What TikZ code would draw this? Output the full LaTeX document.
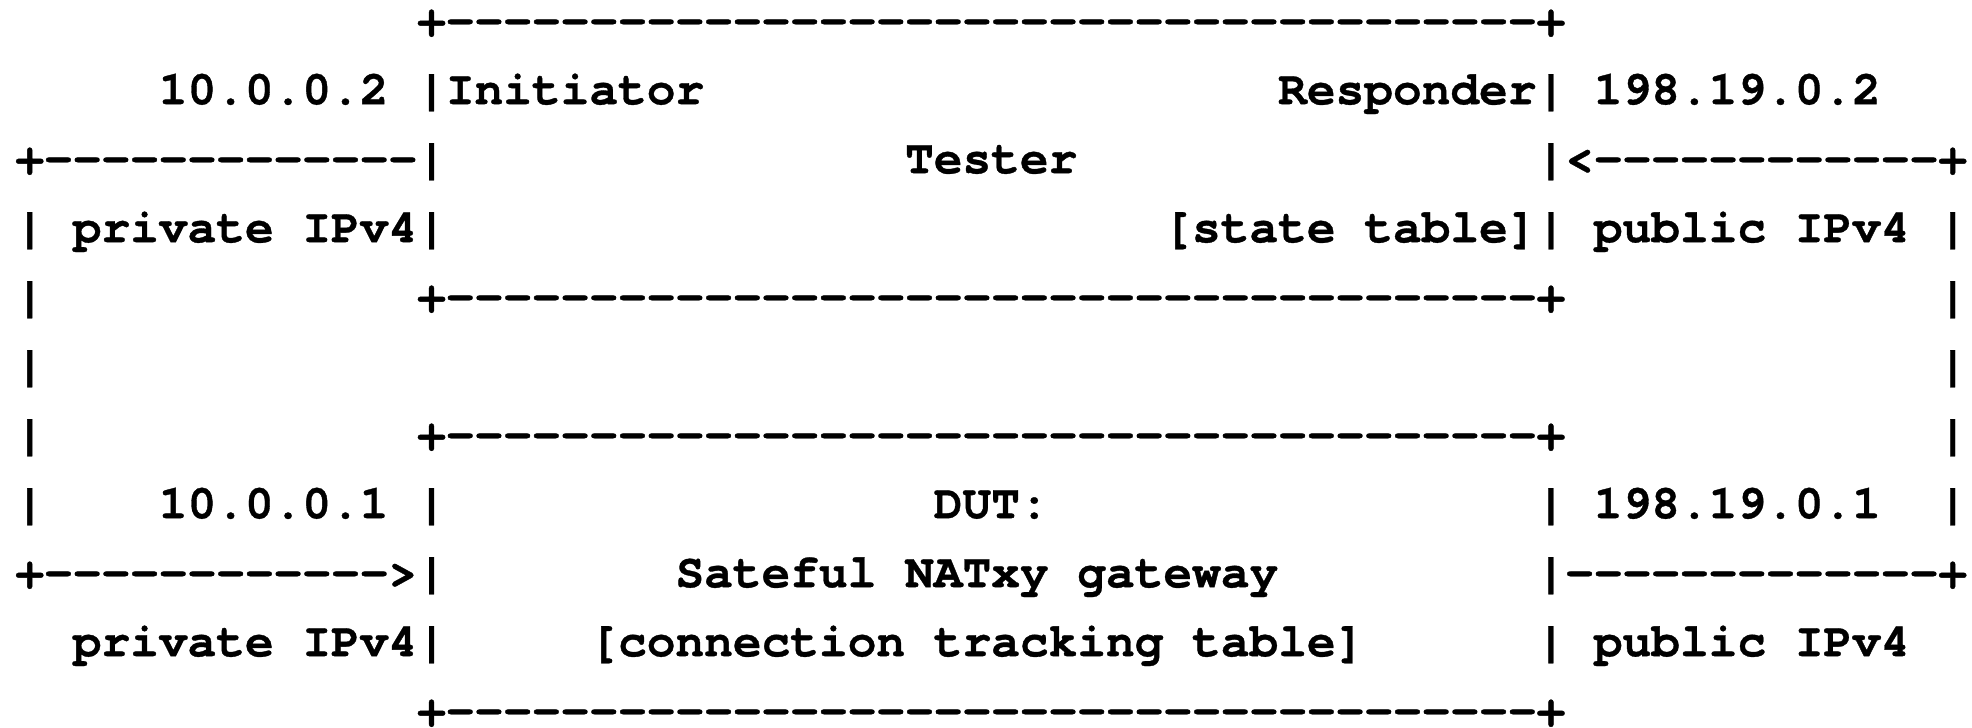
\documentclass[tikz,border=0pt]{standalone}
\usepackage{fontspec}
\setmonofont{texgyrecursor-bold.otf}[FakeBold=0.7]
\newcommand{\cellw}{14.35}
\newcommand{\xoff}{7.7}
\newcommand{\rowh}{34.5}
\tikzset{
  txt/.style={font=\ttfamily\fontsize{23.92pt}{30pt}\selectfont,
    inner sep=0pt, outer sep=0pt, anchor=base west, text=black},
}
\newcommand{\seg}[4]{\node[txt] (#1) at ({\xoff pt+#2*\cellw pt},{-17.6pt-(#3-1)*\rowh pt}) {#4};}
\begin{document}
\begin{tikzpicture}
\useasboundingbox (0,0) rectangle (986pt,-364pt);
% row 1
\seg{tt}{14}{1}{+--------------------------------------+}
% row 2
\seg{ipa}{5}{2}{10.0.0.2}
\seg{ini}{14}{2}{|Initiator}
\seg{res}{44}{2}{Responder|}
\seg{ipb}{55}{2}{198.19.0.2}
% row 3
\seg{la}{0}{3}{+-------------|}
\seg{tester}{31}{3}{Tester}
\seg{ra}{53}{3}{|<------------+}
% row 4
\seg{lb}{0}{4}{| private IPv4|}
\seg{st}{40}{4}{[state table]|}
\seg{pub}{55}{4}{public IPv4}
\seg{rb}{67}{4}{|}
% row 5
\seg{lc}{0}{5}{|}
\seg{tb}{14}{5}{+--------------------------------------+}
\seg{rc}{67}{5}{|}
% row 6
\seg{ld}{0}{6}{|}
\seg{rd}{67}{6}{|}
% row 7
\seg{le}{0}{7}{|}
\seg{dt}{14}{7}{+--------------------------------------+}
\seg{re}{67}{7}{|}
% row 8
\seg{lf}{0}{8}{|}
\seg{ipc}{5}{8}{10.0.0.1}
\seg{dl}{14}{8}{|}
\seg{dut}{32}{8}{DUT:}
\seg{dr}{53}{8}{|}
\seg{ipd}{55}{8}{198.19.0.1}
\seg{rf}{67}{8}{|}
% row 9
\seg{lg}{0}{9}{+------------>|}
\seg{nat}{23}{9}{Sateful NATxy gateway}
\seg{rg}{53}{9}{|-------------+}
% row 10
\seg{priv}{2}{10}{private IPv4|}
\seg{ct}{20}{10}{[connection tracking table]}
\seg{dr2}{53}{10}{|}
\seg{pub2}{55}{10}{public IPv4}
% row 11
\seg{db}{14}{11}{+--------------------------------------+}
\end{tikzpicture}
\end{document}
